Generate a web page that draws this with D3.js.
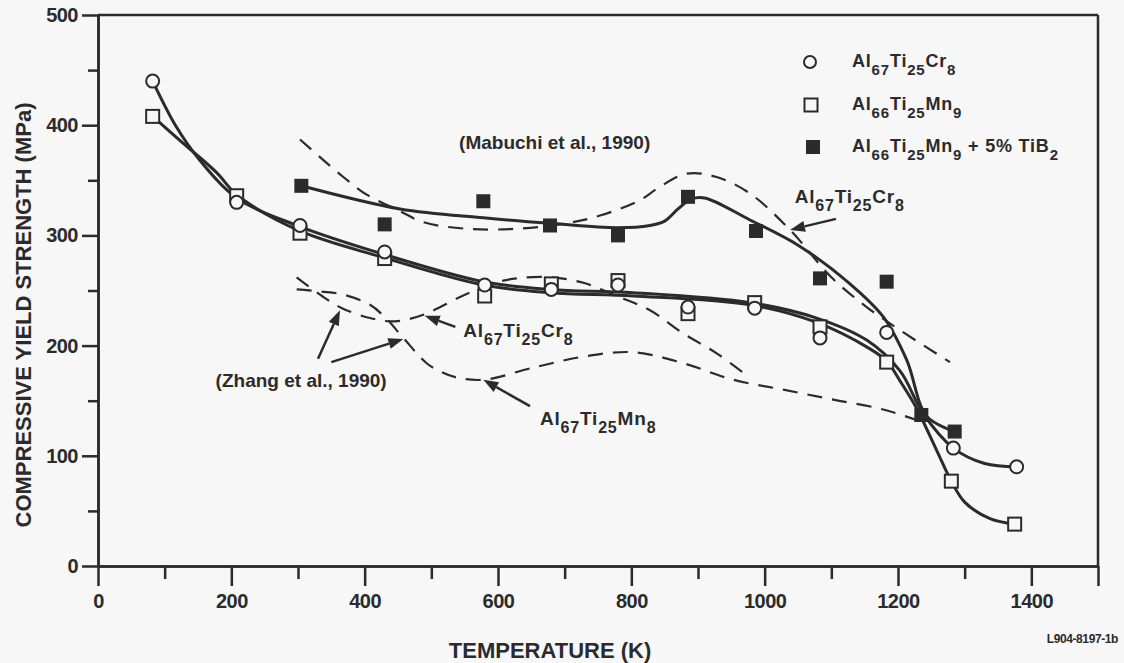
<!DOCTYPE html>
<html><head><meta charset="utf-8">
<script src="https://cdn.jsdelivr.net/npm/d3@7"></script>
<style>
html,body{margin:0;padding:0;background:#f7f7f7;}
svg{display:block;font-family:"Liberation Sans",Arial,Helvetica,sans-serif;font-weight:bold;}
</style></head><body>
<svg id="c" width="1124" height="663"></svg>
<script>
// ---------- data ----------
const xMajorTicks = [0,200,400,600,800,1000,1200,1400,1500];
const xMinorTicks = [100,300,500,700,900,1100,1300];
const yMajorTicks = [0,100,200,300,400,500];
const yMinorTicks = [50,150,250,350,450];

// measured points [T (K), strength (MPa)]
const cr8Points   = [[82,440],[208,330],[303,309],[430,285],[580,255],[680,251],[780,255],[885,235],[985,234],[1083,207],[1183,212],[1283,107],[1378,90]];
const mn9Points   = [[82,408],[208,336],[303,302],[430,279],[580,245],[680,256],[780,259],[885,229],[985,239],[1083,217],[1183,185],[1280,77],[1375,38]];
const tib2Points  = [[305,345],[430,310],[578,331],[678,309],[780,300],[885,335],[987,304],[1083,261],[1183,258],[1235,137],[1285,122]];

// fitted solid curves
const cr8Fit  = [[82,440],[117,399],[153,368],[208,334],[303,308],[428,283],[578,258],[678,251],[803,248],[978,239],[1078,225],[1153,205],[1203,177],[1238,138],[1283,107],[1330,93],[1378,90]];
const mn9Fit  = [[82,408],[127,384],[178,357],[208,337],[303,304],[428,280],[578,255],[678,248],[803,245],[978,237],[1078,221],[1158,197],[1183,186],[1203,168],[1228,143],[1258,105],[1280,77],[1300,58],[1338,43],[1375,38]];
const tib2Fit = [[305,345],[453,324],[578,316],[678,311],[778,307],[828,309],[850,313],[870,324],[890,333],[910,334],[978,314],[1053,290],[1128,256],[1178,226],[1213,187],[1243,136],[1285,122]];

// literature curves (dashed)
const mabuchiCr8 = [[303,387],[333,371],[368,353],[403,337],[453,322],[488,312],[553,306],[628,306],[703,311],[753,318],[813,332],[840,343],[883,356],[928,353],[978,338],[1038,305],[1100,262],[1153,235],[1203,214],[1278,185]];
const zhangCr8   = [[298,262],[336,245],[366,234],[408,225],[445,222],[488,228],[543,244],[590,256],[628,261],[678,262],[728,257],[778,245],[828,232],[878,211],[928,193],[975,172]];
const zhangMn8   = [[298,251],[335,249],[370,246],[408,237],[430,226],[458,207],[493,184],[515,176],[538,171],[578,169],[653,180],[728,190],[803,194],[878,184],[953,169],[1028,160],[1103,151],[1178,142],[1235,131]];

// annotation arrows [fromT, fromMPa, toT, toMPa]
const arrows = [
  [1107,315,1038,305],
  [330,188,363,232],
  [350,185,458,206],
  [536,217,490,227],
  [648,145,578,169]
];

const legendLabels = [
  [["Al",0],["67",1],["Ti",0],["25",1],["Cr",0],["8",1]],
  [["Al",0],["66",1],["Ti",0],["25",1],["Mn",0],["9",1]],
  [["Al",0],["66",1],["Ti",0],["25",1],["Mn",0],["9",1],[" + 5% TiB",0],["2",1]]
];
const cr8Formula = [["Al",0],["67",1],["Ti",0],["25",1],["Cr",0],["8",1]];
const mn8Formula = [["Al",0],["67",1],["Ti",0],["25",1],["Mn",0],["8",1]];

// ---------- drawing ----------
const ink = "#2b2b2b", bg = "#f7f7f7";
const svg = d3.select("#c");
const x = d3.scaleLinear().domain([0,1500]).range([98,1098]);
const y = d3.scaleLinear().domain([0,500]).range([566,15]);

// axes
const xAxis = svg.append("g").attr("transform",`translate(0,${y(0)})`)
  .call(d3.axisBottom(x).tickValues(xMajorTicks).tickSize(20).tickSizeOuter(0).tickPadding(8)
        .tickFormat(d => d===1500 ? "" : d));
const xMinor = svg.append("g").attr("transform",`translate(0,${y(0)})`)
  .call(d3.axisBottom(x).tickValues(xMinorTicks).tickSize(13).tickSizeOuter(0).tickFormat(""));
const yAxis = svg.append("g").attr("transform",`translate(${x(0)},0)`)
  .call(d3.axisLeft(y).tickValues(yMajorTicks).tickSize(16).tickSizeOuter(0).tickPadding(4));
const yMinor = svg.append("g").attr("transform",`translate(${x(0)},0)`)
  .call(d3.axisLeft(y).tickValues(yMinorTicks).tickSize(10).tickSizeOuter(0).tickFormat(""));
[xAxis,xMinor,yAxis,yMinor].forEach(g=>{
  g.selectAll(".domain").attr("stroke",ink).attr("stroke-width",2.5);
  g.selectAll(".tick line").attr("stroke",ink).attr("stroke-width",2.5);
  g.selectAll(".tick text").attr("fill",ink).attr("font-size",20).attr("font-weight","bold")
   .attr("font-family","'Liberation Sans',Arial,sans-serif").attr("letter-spacing","-0.5");
});
// frame top & right
svg.append("line").attr("x1",x(0)).attr("x2",x(1500)).attr("y1",y(500)).attr("y2",y(500)).attr("stroke",ink).attr("stroke-width",2.5);
svg.append("line").attr("x1",x(1500)).attr("x2",x(1500)).attr("y1",y(500)).attr("y2",y(0)).attr("stroke",ink).attr("stroke-width",2.5);

// axis titles
svg.append("text").attr("x",550).attr("y",658).attr("text-anchor","middle")
  .attr("font-size",22).attr("fill",ink).text("TEMPERATURE (K)");
svg.append("text").attr("transform",`translate(31,315) rotate(-90)`).attr("text-anchor","middle")
  .attr("font-size",22).attr("fill",ink).text("COMPRESSIVE YIELD STRENGTH (MPa)");
svg.append("text").attr("x",1118).attr("y",643).attr("text-anchor","end")
  .attr("font-size",12).attr("fill",ink).attr("letter-spacing","-0.4").text("L904-8197-1b");

const line = d3.line().x(d=>x(d[0])).y(d=>y(d[1])).curve(d3.curveCatmullRom.alpha(0.5));

// dashed literature curves
[mabuchiCr8, zhangCr8, zhangMn8].forEach(pts=>{
  svg.append("path").attr("d",line(pts)).attr("fill","none").attr("stroke",ink)
    .attr("stroke-width",2.2).attr("stroke-dasharray","15,10");
});
// solid fits
[cr8Fit, mn9Fit, tib2Fit].forEach(pts=>{
  svg.append("path").attr("d",line(pts)).attr("fill","none").attr("stroke",ink)
    .attr("stroke-width",3).attr("stroke-linejoin","round");
});

// arrows
function arrow(a){
  const x1=x(a[0]), y1=y(a[1]), x2=x(a[2]), y2=y(a[3]);
  const ang=Math.atan2(y2-y1,x2-x1), L=15, W=5.5;
  const bx=x2-L*Math.cos(ang), by=y2-L*Math.sin(ang);
  svg.append("line").attr("x1",x1).attr("y1",y1).attr("x2",bx).attr("y2",by)
    .attr("stroke",ink).attr("stroke-width",2.5);
  const px=-Math.sin(ang)*W, py=Math.cos(ang)*W;
  svg.append("path").attr("d",`M${x2},${y2}L${bx+px},${by+py}L${bx-px},${by-py}Z`).attr("fill",ink);
}
arrows.forEach(arrow);

// markers
const g = svg.append("g");
g.selectAll(".sqf").data(tib2Points).join("rect")
  .attr("x",d=>x(d[0])-7).attr("y",d=>y(d[1])-7).attr("width",14).attr("height",14).attr("fill",ink);
g.selectAll(".sqo").data(mn9Points).join("rect")
  .attr("x",d=>x(d[0])-6.5).attr("y",d=>y(d[1])-6.5).attr("width",13).attr("height",13)
  .attr("fill",bg).attr("stroke",ink).attr("stroke-width",2);
g.selectAll(".cir").data(cr8Points).join("circle")
  .attr("cx",d=>x(d[0])).attr("cy",d=>y(d[1])).attr("r",6.5)
  .attr("fill",bg).attr("stroke",ink).attr("stroke-width",2);

// formula text helper
function chem(px, py, parts, size, subSize, anchor){
  const t = svg.append("text").attr("x",px).attr("y",py).attr("font-size",size).attr("fill",ink)
    .attr("letter-spacing","0.8").attr("text-anchor",anchor||"start");
  let lowered=false;
  parts.forEach(p=>{
    const s=t.append("tspan").text(p[0]);
    if(p[1] && !lowered){ s.attr("dy",8).attr("font-size",subSize); lowered=true; }
    else if(p[1]){ s.attr("font-size",subSize); }
    else if(lowered){ s.attr("dy",-8); lowered=false; }
  });
  return t;
}

// in-plot labels
chem(x(1045), y(329), cr8Formula, 19, 16);
chem(x(548), y(208), cr8Formula, 19, 16);
chem(x(663), y(128), mn8Formula, 19, 16);
svg.append("text").attr("x",x(685)).attr("y",y(378)).attr("text-anchor","middle")
  .attr("font-size",19).attr("fill",ink).text("(Mabuchi et al., 1990)");
svg.append("text").attr("x",x(433)).attr("y",y(162)).attr("text-anchor","end")
  .attr("font-size",19).attr("fill",ink).text("(Zhang et al., 1990)");

// legend
const legY = [62,105,147];
svg.append("circle").attr("cx",810).attr("cy",legY[0]).attr("r",6).attr("fill",bg).attr("stroke",ink).attr("stroke-width",2);
svg.append("rect").attr("x",804.5).attr("y",legY[1]-6.5).attr("width",13).attr("height",13).attr("fill",bg).attr("stroke",ink).attr("stroke-width",2);
svg.append("rect").attr("x",806).attr("y",legY[2]-7).attr("width",14).attr("height",14).attr("fill",ink);
legendLabels.forEach((lab,i)=>chem(852, legY[i]+5, lab, 18, 15));
</script>
</body></html>
